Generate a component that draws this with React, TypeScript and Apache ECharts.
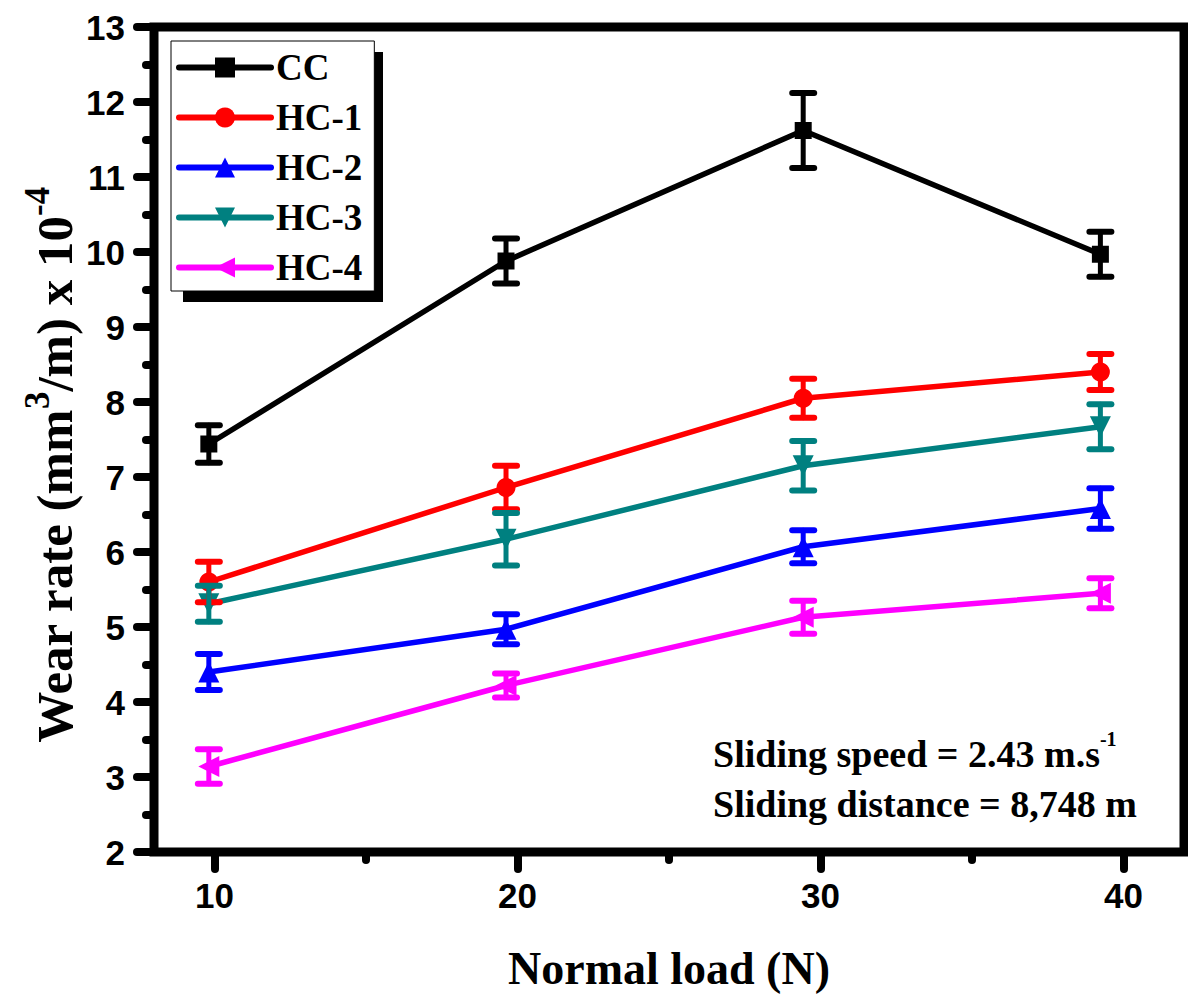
import React, { useEffect, useRef } from 'react';
import * as echarts from 'echarts';

const loads = [9.81, 19.62, 29.43, 39.24];
const seriesNames = ['CC', 'HC-1', 'HC-2', 'HC-3', 'HC-4'];
const ccWear = [7.44, 9.88, 11.62, 9.97];
const ccErr = [0.25, 0.3, 0.5, 0.3];
const hc1Wear = [5.6, 6.86, 8.05, 8.4];
const hc1Err = [0.27, 0.29, 0.26, 0.24];
const hc2Wear = [4.4, 4.97, 6.07, 6.58];
const hc2Err = [0.24, 0.2, 0.22, 0.27];
const hc3Wear = [5.31, 6.17, 7.15, 7.67];
const hc3Err = [0.24, 0.35, 0.33, 0.3];
const hc4Wear = [3.14, 4.22, 5.13, 5.45];
const hc4Err = [0.23, 0.16, 0.22, 0.2];

const xMajorTicks = [10, 20, 30, 40];
const xMinorTicks = [15, 25, 35];

const colors = ['#000000', '#ff0000', '#0000ff', '#008080', '#ff00ff'];
const symbols = ['rect', 'circle', 'triangle', 'triangle', 'triangle'];
const symbolRotations = [0, 0, 0, 180, 90];
const symbolSizes = [17, 19, 21, 21, 21];

const wearSets = [ccWear, hc1Wear, hc2Wear, hc3Wear, hc4Wear];
const errSets = [ccErr, hc1Err, hc2Err, hc3Err, hc4Err];

const SERIF = '"Liberation Serif", "Times New Roman", serif';
const SANS = '"Liberation Sans", Arial, sans-serif';

export default function App() {
  const ref = useRef<HTMLDivElement>(null);
  useEffect(() => {
    if (!ref.current) return;
    const chart = echarts.init(ref.current, undefined, { renderer: 'svg' });

    const lineSeries = seriesNames.map((name, k) => ({
      type: 'line',
      name,
      data: loads.map((x, i) => [x, wearSets[k][i]]),
      symbol: symbols[k],
      symbolSize: symbolSizes[k],
      symbolRotate: symbolRotations[k],
      lineStyle: { color: colors[k], width: 5.5 },
      itemStyle: { color: colors[k] },
      z: 2,
    }));

    const errSeries = seriesNames.map((name, k) => ({
      type: 'custom',
      name: name + ' err',
      xAxisIndex: 0,
      yAxisIndex: 0,
      encode: { x: 0, y: [1, 2] },
      data: loads.map((x, i) => [x, wearSets[k][i] - errSets[k][i], wearSets[k][i] + errSets[k][i]]),
      z: 3,
      renderItem: (params: any, api: any) => {
        const x = api.value(0);
        const lo = api.coord([x, api.value(1)]);
        const hi = api.coord([x, api.value(2)]);
        const hw = 11;
        const stem = { stroke: colors[k], lineWidth: 5, lineCap: 'round' };
        const cap = { stroke: colors[k], lineWidth: 6, lineCap: 'round' };
        return {
          type: 'group',
          children: [
            { type: 'line', shape: { x1: lo[0], y1: lo[1], x2: hi[0], y2: hi[1] }, style: stem },
            { type: 'line', shape: { x1: lo[0] - hw, y1: lo[1], x2: lo[0] + hw, y2: lo[1] }, style: cap },
            { type: 'line', shape: { x1: hi[0] - hw, y1: hi[1], x2: hi[0] + hw, y2: hi[1] }, style: cap },
          ],
        };
      },
    }));

    const tickStyle = { color: '#000', width: 8, cap: 'round' };

    chart.setOption({
      animation: false,
      backgroundColor: '#ffffff',
      grid: {
        left: 154,
        top: 27,
        width: 1030,
        height: 825,
        show: true,
        borderColor: '#000',
        borderWidth: 9,
        backgroundColor: 'transparent',
      },
      xAxis: [
        {
          type: 'value',
          min: 8,
          max: 42,
          position: 'bottom',
          axisLine: { show: false },
          splitLine: { show: false },
          axisTick: { show: true, customValues: xMajorTicks, length: 17, lineStyle: tickStyle },
          axisLabel: {
            customValues: xMajorTicks,
            margin: 26,
            fontFamily: SANS,
            fontWeight: 'bold',
            fontSize: 35,
            color: '#000',
          },
        },
        {
          type: 'value',
          min: 8,
          max: 42,
          position: 'bottom',
          axisLine: { show: false },
          splitLine: { show: false },
          axisTick: { show: true, customValues: xMinorTicks, length: 8, lineStyle: tickStyle },
          axisLabel: { show: false },
        },
      ],
      yAxis: {
        type: 'value',
        min: 2,
        max: 13,
        interval: 1,
        axisLine: { show: false },
        splitLine: { show: false },
        axisTick: { show: true, length: 17, lineStyle: tickStyle },
        minorTick: { show: true, splitNumber: 2, length: 8, lineStyle: tickStyle },
        axisLabel: {
          margin: 29,
          fontFamily: SANS,
          fontWeight: 'bold',
          fontSize: 35,
          color: '#000',
        },
      },
      legend: {
        data: seriesNames,
        orient: 'vertical',
        left: 171,
        top: 41,
        padding: [8, 12, 5, 5],
        itemGap: 13,
        itemWidth: 92,
        itemHeight: 25,
        selectedMode: false,
        backgroundColor: '#ffffff',
        borderColor: '#000',
        borderWidth: 1,
        z: 10,
        lineStyle: { width: 6, cap: 'round' },
        textStyle: { fontFamily: SERIF, fontWeight: 'bold', fontSize: 37, color: '#000' },
      },
      graphic: [
        {
          type: 'rect',
          shape: { x: 183, y: 52, width: 200, height: 250 },
          style: { fill: '#000' },
          z: 5,
        },
        {
          type: 'text',
          x: 50,
          y: 465,
          rotation: Math.PI / 2,
          style: {
            text: '{a|Wear rate (mm}{s|3}{a|/m) x 10}{s|-4}',
            align: 'center',
            verticalAlign: 'middle',
            rich: {
              a: { fontFamily: SERIF, fontWeight: 'bold', fontSize: 51, lineHeight: 60, verticalAlign: 'bottom', fill: '#000' },
              s: { fontFamily: SERIF, fontWeight: 'bold', fontSize: 35, lineHeight: 35, verticalAlign: 'top', fill: '#000' },
            },
          },
        },
        {
          type: 'text',
          x: 669,
          y: 968,
          style: {
            text: 'Normal load (N)',
            fontFamily: SERIF,
            fontWeight: 'bold',
            fontSize: 46,
            fill: '#000',
            align: 'center',
            verticalAlign: 'middle',
          },
        },
        {
          type: 'text',
          x: 713,
          y: 751,
          style: {
            text: '{a|Sliding speed = 2.43 m.s}{s|-1}',
            align: 'left',
            verticalAlign: 'middle',
            rich: {
              a: { fontFamily: SERIF, fontWeight: 'bold', fontSize: 38, lineHeight: 44, verticalAlign: 'bottom', fill: '#000' },
              s: { fontFamily: SERIF, fontWeight: 'bold', fontSize: 20, lineHeight: 20, verticalAlign: 'top', fill: '#000' },
            },
          },
        },
        {
          type: 'text',
          x: 713,
          y: 804,
          style: {
            text: 'Sliding distance = 8,748 m',
            fontFamily: SERIF,
            fontWeight: 'bold',
            fontSize: 38,
            fill: '#000',
            align: 'left',
            verticalAlign: 'middle',
          },
        },
      ],
      series: [...lineSeries, ...errSeries],
    });

    return () => {
      chart.dispose();
    };
  }, []);

  return (
    <div
      ref={ref}
      style={{ position: 'absolute', left: 0, top: 0, width: 1188, height: 996, background: '#fff' }}
    />
  );
}
